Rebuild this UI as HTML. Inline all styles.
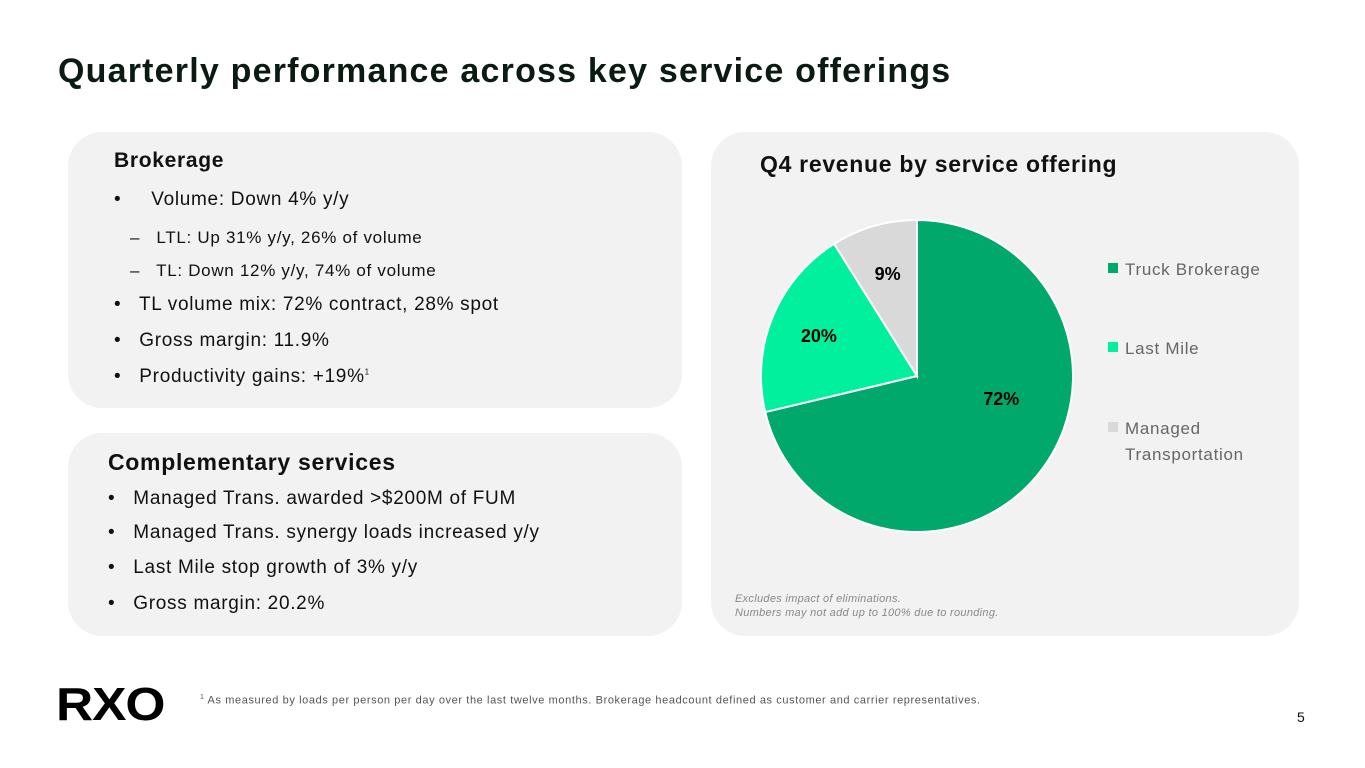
<!DOCTYPE html>
<html><head><meta charset="utf-8">
<style>
body{margin:0;width:1365px;height:768px;background:#fff;font-family:"Liberation Sans",sans-serif;position:relative;overflow:hidden;color:#111}
.abs{position:absolute}
h1{position:absolute;left:58px;top:52px;margin:0;font-size:34px;font-weight:bold;color:#0b1a12;letter-spacing:1.2px}
.card{position:absolute;background:#f2f2f2;border-radius:34px}
.t{position:absolute;font-size:19px;color:#111;white-space:nowrap;letter-spacing:0.7px}
.b{font-weight:bold;font-size:21px}
</style></head><body>
<h1>Quarterly performance across key service offerings</h1>

<div class="card" style="left:68px;top:132px;width:614px;height:276px"></div>
<div class="t b" style="left:114px;top:149px">Brokerage</div>
<div class="t" style="left:114px;top:189px">•&nbsp;&nbsp;&nbsp;&nbsp; Volume: Down 4% y/y</div>
<div class="t" style="left:130px;top:228px;font-size:17px">–&nbsp;&nbsp; LTL: Up 31% y/y, 26% of volume</div>
<div class="t" style="left:130px;top:261px;font-size:17px">–&nbsp;&nbsp; TL: Down 12% y/y, 74% of volume</div>
<div class="t" style="left:114px;top:294px">•&nbsp;&nbsp; TL volume mix: 72% contract, 28% spot</div>
<div class="t" style="left:114px;top:330px">•&nbsp;&nbsp; Gross margin: 11.9%</div>
<div class="t" style="left:114px;top:366px">•&nbsp;&nbsp; Productivity gains: +19%<sup style="font-size:8px">1</sup></div>

<div class="card" style="left:68px;top:433px;width:614px;height:203px"></div>
<div class="t b" style="left:108px;top:449px;font-size:23px">Complementary services</div>
<div class="t" style="left:108px;top:488px">•&nbsp;&nbsp; Managed Trans. awarded &gt;$200M of FUM</div>
<div class="t" style="left:108px;top:522px">•&nbsp;&nbsp; Managed Trans. synergy loads increased y/y</div>
<div class="t" style="left:108px;top:557px">•&nbsp;&nbsp; Last Mile stop growth of 3% y/y</div>
<div class="t" style="left:108px;top:593px">•&nbsp;&nbsp; Gross margin: 20.2%</div>

<div class="card" style="left:711px;top:132px;width:588px;height:504px"></div>
<div class="t b" style="left:760px;top:151px;font-size:23px">Q4 revenue by service offering</div>
<svg class="abs" style="left:0;top:0" width="1365" height="768" id="chart"></svg>
<div class="t" style="left:735px;top:592px;font-size:11px;font-style:italic;color:#888;line-height:14px;letter-spacing:0.3px">Excludes impact of eliminations.<br>Numbers may not add up to 100% due to rounding.</div>

<div class="abs" style="left:56px;top:677px;font-size:46px;font-weight:900;letter-spacing:-1px;color:#000;font-family:'Liberation Sans',sans-serif;transform:scaleX(1.12);transform-origin:left">RXO</div>
<div class="t" style="left:200px;top:694px;font-size:11px;color:#555;letter-spacing:0.6px"><sup style="font-size:7px">1</sup> As measured by loads per person per day over the last twelve months. Brokerage headcount defined as customer and carrier representatives.</div>
<div class="t" style="left:1297px;top:709px;font-size:14px">5</div>

<script>
const categories=["Truck Brokerage","Last Mile","Managed Transportation"];
const values=[72,20,9];
const labels=["72%","20%","9%"];
const colors=["#00a86b","#00f09e","#d9d9d9"];
const svg=document.getElementById('chart');
const NS="http://www.w3.org/2000/svg";
const cx=917,cy=376,r=156;
const total=values.reduce((a,b)=>a+b,0);
function pt(a,rr){return [cx+rr*Math.sin(a),cy-rr*Math.cos(a)];}
let a0=0;
values.forEach((v,i)=>{
  const a1=a0+v/total*2*Math.PI;
  const p0=pt(a0,r),p1=pt(a1,r);
  const large=(a1-a0)>Math.PI?1:0;
  const p=document.createElementNS(NS,'path');
  p.setAttribute('d',`M${cx},${cy} L${p0[0]},${p0[1]} A${r},${r} 0 ${large} 1 ${p1[0]},${p1[1]} Z`);
  p.setAttribute('fill',colors[i]);p.setAttribute('stroke','#fff');p.setAttribute('stroke-width','2');
  
  
  svg.appendChild(p);
  const big=v/total>0.5;
  const m=big?(a0+a1)/2-0.4:(a0+a1)/2;
  const lp=pt(m,r*(big?0.56:0.68));
  const t=document.createElementNS(NS,'text');
  t.setAttribute('x',lp[0]);t.setAttribute('y',lp[1]+6);t.setAttribute('text-anchor','middle');
  t.setAttribute('font-size','18');t.setAttribute('font-weight','bold');t.setAttribute('font-family','Liberation Sans, sans-serif');
  t.textContent=labels[i];
  
  
  svg.appendChild(t);
  a0=a1;
});
const ly=[269,348,428];
categories.forEach((c,i)=>{
  const s=document.createElementNS(NS,'rect');
  s.setAttribute('x',1108);s.setAttribute('y',ly[i]-6);s.setAttribute('width',10);s.setAttribute('height',10);s.setAttribute('fill',colors[i]);
  
  
  svg.appendChild(s);
  const words=i===2?["Managed","Transportation"]:[c];
  words.forEach((w,j)=>{
    const t=document.createElementNS(NS,'text');
    t.setAttribute('x',1125);t.setAttribute('y',ly[i]+6+j*26);t.setAttribute('font-size','17');t.setAttribute('fill','#666');
    t.setAttribute('letter-spacing','0.7');
    t.setAttribute('font-family','Liberation Sans, sans-serif');t.textContent=w;
    
    
    svg.appendChild(t);
  });
});
</script>
</body></html>
